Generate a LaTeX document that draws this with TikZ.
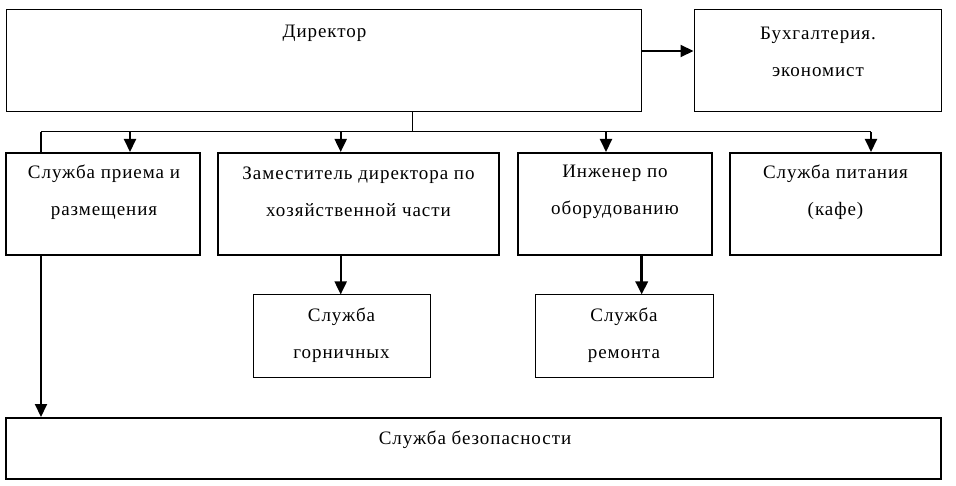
\documentclass[tikz,border=0pt]{standalone}
\usepackage{fontspec}
\setmainfont[LetterSpace=5]{Liberation Serif}
\usetikzlibrary{arrows.meta}
\begin{document}
\begin{tikzpicture}[x=1pt,y=-1pt,
  thinbox/.style={draw, line width=1pt, rectangle, inner sep=0pt},
  thickbox/.style={draw, line width=2pt, rectangle, inner sep=0pt},
  txt/.style={align=center, font=\fontsize{19}{37}\selectfont, inner sep=0pt},
  conn/.style={line width=1pt},
  arr/.style={line width=2pt, -{Triangle[length=13pt,width=12pt]}}]
\useasboundingbox (0,0) rectangle (956,486);
% boxes
\node[thinbox, minimum width=635pt, minimum height=102pt] (dir) at (323.5,61) {};
\node[thinbox, minimum width=247pt, minimum height=102pt] (buh) at (817.5,61) {};
\node[thickbox, minimum width=194pt, minimum height=102pt] (s1) at (103,204) {};
\node[thickbox, minimum width=281pt, minimum height=102pt] (s2) at (358.5,204) {};
\node[thickbox, minimum width=194pt, minimum height=102pt] (s3) at (615,204) {};
\node[thickbox, minimum width=211pt, minimum height=102pt] (s4) at (835.5,204) {};
\node[thinbox, minimum width=177pt, minimum height=82pt] (gor) at (341.5,336) {};
\node[thinbox, minimum width=178pt, minimum height=82pt] (rem) at (624,336) {};
\node[thickbox, minimum width=935pt, minimum height=61pt] (sec) at (473.5,448.5) {};
% texts
\node[txt] (tdir) at (324.5,33) {Директор};
\node[txt] (tbuh) at (818,52) {Бухгалтерия.\\экономист};
\node[txt] (ts1) at (104,192) {Служба приема и\\размещения};
\node[txt] (ts2) at (358.5,192) {Заместитель директора по\\хозяйственной части};
\node[txt] (ts3) at (615,192) {Инженер по\\оборудованию};
\node[txt] (ts4) at (835.5,192) {Служба питания\\(кафе)};
\node[txt] (tgor) at (341.5,335) {Служба\\горничных};
\node[txt] (trem) at (624,335) {Служба\\ремонта};
\node[txt] (tsec) at (475,440) {Служба безопасности};
% junctions
\coordinate (ja) at (641,51);
\coordinate (jb) at (412.7,132);
\coordinate (jl) at (41,132);
\coordinate (jr) at (871,132);
\coordinate (c1) at (130,132);
\coordinate (c2) at (340.7,132);
\coordinate (c3) at (606,132);
\coordinate (x2) at (340.7,0);
\coordinate (x3) at (641.7,0);
\coordinate (x1) at (41,0);
% connectors
\draw[arr] (dir.east |- ja) -- (buh.west |- ja);
\draw[conn] (dir.south -| jb) -- (jb);
\draw[conn] (jl) -- (jr);
\draw[line width=2pt] (jl) -- (s1.north -| jl);
\draw[arr] (c1) -- (s1.north -| c1);
\draw[arr] (c2) -- (s2.north -| c2);
\draw[arr] (c3) -- (s3.north -| c3);
\draw[arr] (jr) -- (s4.north -| jr);
\draw[arr] (s2.south -| x2) -- (gor.north -| x2);
\draw[arr, line width=3pt] (s3.south -| x3) -- (rem.north -| x3);
\draw[arr] (s1.south -| x1) -- (sec.north -| x1);
\end{tikzpicture}
\end{document}
